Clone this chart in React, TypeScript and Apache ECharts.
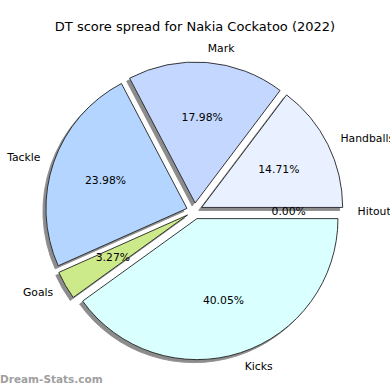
import React, { useEffect, useRef } from "react";
import * as echarts from "echarts";

const categories = ["Hitout", "Handballs", "Mark", "Tackle", "Goals", "Kicks"];
const values = [0, 14.71, 17.98, 23.98, 3.27, 40.05];
const colors = ["#dfe8ff", "#e9f0ff", "#c4d8ff", "#b4d5ff", "#cdea8a", "#d9ffff"];
const titleText = "DT score spread for Nakia Cockatoo (2022)";
const watermark = "Dream-Stats.com";

const FONT = "DejaVu Sans";
const R = 141;
const CENTER = [194.5, 211];
const OFFSET = 8;

export default function App() {
  const ref = useRef<HTMLDivElement>(null);
  useEffect(() => {
    if (!ref.current) return;
    const chart = echarts.init(ref.current, null, { renderer: "svg" });
    const mainData = categories.map((name, i) => ({
      name,
      value: values[i],
      selected: true,
      itemStyle: { color: colors[i] },
    }));
    const pctData = categories.map((name, i) => ({
      name,
      value: values[i],
      selected: true,
    }));
    chart.setOption({
      animation: false,
      title: {
        text: titleText,
        left: "center",
        top: 20,
        padding: 0,
        textStyle: { fontFamily: FONT, fontSize: 13, fontWeight: "normal", color: "#000" },
      },
      graphic: [
        {
          type: "text",
          left: 0,
          top: 373,
          style: {
            text: watermark,
            fill: "#a0a0a0",
            font: `bold 10.5px "${FONT}"`,
          },
        },
      ],
      series: [
        {
          type: "pie",
          center: CENTER,
          radius: R,
          startAngle: 0,
          clockwise: false,
          selectedMode: "multiple",
          selectedOffset: OFFSET,
          avoidLabelOverlap: false,
          silent: true,
          emphasis: { disabled: true },
          itemStyle: {
            borderColor: "#222",
            borderWidth: 0.9,
            shadowBlur: 0,
            shadowOffsetX: -3,
            shadowOffsetY: 3,
            shadowColor: "rgba(0,0,0,0.45)",
          },
          label: {
            show: true,
            position: "outside",
            formatter: "{b}",
            fontFamily: FONT,
            fontSize: 10.8,
            color: "#000",
            distanceToLabelLine: 0,
            alignTo: "none",
          },
          labelLine: { show: false, length: R * 0.1, length2: 0 },
          data: mainData,
        },
        {
          type: "pie",
          center: CENTER,
          radius: R * 1.18,
          startAngle: 0,
          clockwise: false,
          selectedMode: "multiple",
          selectedOffset: OFFSET,
          avoidLabelOverlap: false,
          silent: true,
          emphasis: { disabled: true },
          itemStyle: { color: "rgba(0,0,0,0)", borderWidth: 0 },
          label: {
            show: true,
            position: "inside",
            formatter: (p: any) => Number(p.value).toFixed(2) + "%",
            fontFamily: FONT,
            fontSize: 10.8,
            color: "#000",
          },
          labelLine: { show: false },
          data: pctData,
        },
      ],
    });
    return () => chart.dispose();
  }, []);
  return (
    <div
      ref={ref}
      style={{ position: "fixed", left: 0, top: 0, width: 390, height: 390, background: "#fff" }}
    />
  );
}
